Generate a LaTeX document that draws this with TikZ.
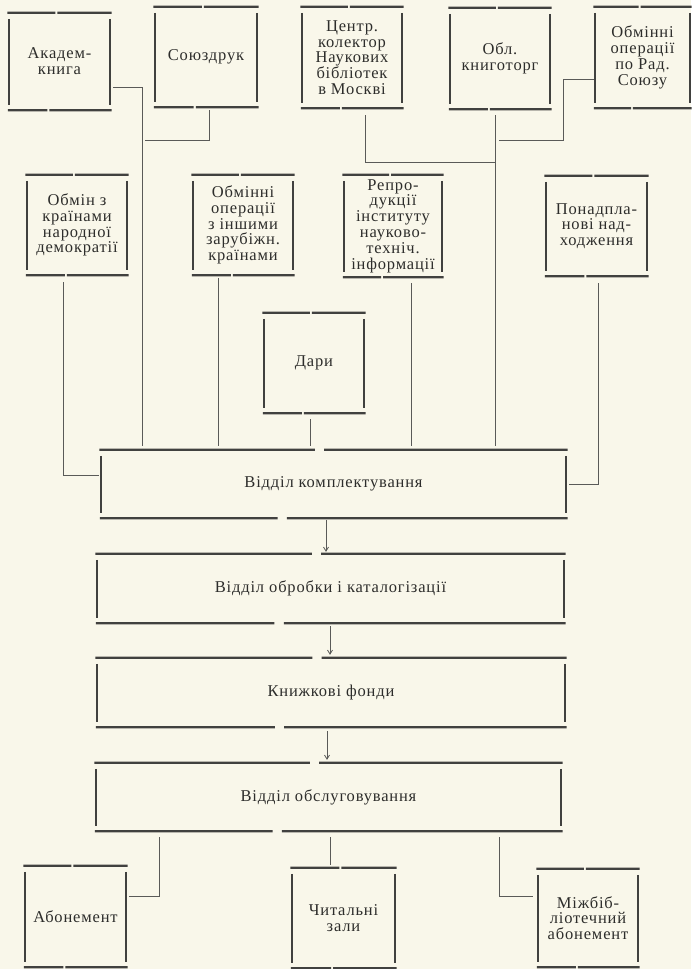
\documentclass[tikz,border=0pt]{standalone}
\usepackage{fontspec}
\setmainfont{Liberation Serif}[LetterSpace=5]
\usetikzlibrary{calc,arrows.meta}
\definecolor{bgc}{RGB}{249,247,234}
\definecolor{lc}{RGB}{65,65,63}
\definecolor{txt}{RGB}{45,45,43}
\definecolor{cc}{RGB}{90,90,88}
\newcommand{\frm}[1]{%
  \draw[hl] ([xshift=-1.5pt]#1.north west) -- ($(#1.north west)!0.46!(#1.north east)$);
  \draw[hl] ($(#1.north west)!0.48!(#1.north east)$) -- ([xshift=1.5pt]#1.north east);
  \draw[hl] ([xshift=-1pt]#1.south west) -- ($(#1.south west)!0.38!(#1.south east)$);
  \draw[hl] ($(#1.south west)!0.40!(#1.south east)$) -- ([xshift=1.5pt]#1.south east);
  \draw[vl] ([yshift=-6pt]#1.north west) -- ([yshift=5pt]#1.south west);
  \draw[vl] ([yshift=-6pt]#1.north east) -- ([yshift=5pt]#1.south east);
}
\begin{document}
\begin{tikzpicture}[x=1pt,y=-1pt,
  bx/.style={rectangle, inner sep=0pt, align=center, text=txt,
    font=\fontsize{16.5}{15.8}\selectfont},
  wide/.style={bx, font=\fontsize{16.5}{18}\selectfont},
  hl/.style={draw=lc, line width=2.3pt},
  vl/.style={draw=lc, line width=2pt},
  cn/.style={draw=cc, line width=0.8pt},
  arr/.style={cn, -{Straight Barb[length=4pt,width=5pt]}}]
\fill[bgc] (0,0) rectangle (691,969);
\useasboundingbox (0,0) rectangle (691,969);

% top row
\node[bx, minimum width=101pt, minimum height=97pt] (akad) at (59.5,61.5) {Академ-\\книга};
\node[bx, minimum width=102pt, minimum height=100pt] (soyuz) at (206,57) {Союздрук};
\node[bx, minimum width=100pt, minimum height=101pt] (centr) at (352,57.5) {Центр.\\колектор\\Наукових\\бібліотек\\в Москві};
\node[bx, minimum width=100pt, minimum height=101pt] (obl) at (500,58.5) {Обл.\\книготорг};
\node[bx, minimum width=95pt, minimum height=101pt] (radsoyuz) at (642.5,57.5) {Обмінні\\операції\\по Рад.\\Союзу};

% second row
\node[bx, minimum width=100pt, minimum height=100pt] (obmin) at (77,225) {Обмін з\\країнами\\народної\\демократії};
\node[bx, minimum width=100pt, minimum height=100pt] (zarub) at (243,225) {Обмінні\\операції\\з іншими\\зарубіжн.\\країнами};
\node[bx, minimum width=98pt, minimum height=102pt] (repro) at (393,226) {Репро-\\дукції\\інституту\\науково-\\техніч.\\інформації};
\node[bx, minimum width=101pt, minimum height=100pt] (ponad) at (596.5,226) {Понадпла-\\нові над-\\ходження};
\node[bx, minimum width=100pt, minimum height=100pt] (dary) at (314,363) {Дари};

% main column
\node[wide, minimum width=465pt, minimum height=68pt] (komp) at (333.5,484) {Відділ комплектування};
\node[wide, minimum width=467pt, minimum height=69pt] (obrob) at (330.5,588.5) {Відділ обробки і каталогізації};
\node[wide, minimum width=468pt, minimum height=69pt] (fondy) at (331,692.5) {Книжкові фонди};
\node[wide, minimum width=465pt, minimum height=68pt] (obsl) at (328.5,797) {Відділ обслуговування};

% bottom row
\node[bx, minimum width=101pt, minimum height=101pt] (abon) at (75.5,916.5) {Абонемент};
\node[bx, minimum width=103pt, minimum height=100pt] (chyt) at (343.5,918) {Читальні\\зали};
\node[bx, minimum width=100pt, minimum height=98pt] (mizh) at (588,918) {Міжбіб-\\ліотечний\\абонемент};

\foreach \n in {akad,soyuz,centr,obl,radsoyuz,obmin,zarub,repro,ponad,dary,komp,obrob,fondy,obsl,abon,chyt,mizh}{\frm{\n}}

% connectors top
\coordinate (j1) at (142,87);
\coordinate (j2) at (209,140);
\coordinate (j3) at (365,162);
\coordinate (j4) at (495,140);
\coordinate (j5) at (563,79);
\coordinate (j6) at (63,475);
\coordinate (j8) at (598,484);
\coordinate (x7) at (218,0);
\coordinate (xd) at (310,0);
\coordinate (xr) at (411,0);
\draw[cn] ([xshift=3pt]akad.east |- j1) -- (j1) -- ([yshift=4pt]j1 |- komp.north);
\draw[cn] ([yshift=-3pt]soyuz.south -| j2) -- (j2) -- ([xshift=3pt]j2 -| j1);
\draw[cn] ([yshift=-7pt]centr.south -| j3) -- (j3) -- (j3 -| j4);
\draw[cn] ([yshift=-6pt]obl.south -| j4) -- ([yshift=4pt]komp.north -| j4);
\draw[cn] ([xshift=-1pt]radsoyuz.west |- j5) -- (j5) -- (j5 |- j4) -- ([xshift=4pt]j4);
\draw[cn] ([yshift=-7pt]obmin.south -| j6) -- (j6) -- ([xshift=-2pt]komp.west |- j6);
\draw[cn] ([yshift=-3pt]zarub.south -| x7) -- ([yshift=4pt]komp.north -| x7);
\draw[cn] ([yshift=-6pt]dary.south -| xd) -- ([yshift=4pt]komp.north -| xd);
\draw[cn] ([yshift=-6pt]repro.south -| xr) -- ([yshift=4pt]komp.north -| xr);
\draw[cn] ([yshift=-7pt]ponad.south -| j8) -- (j8) -- ([xshift=3pt]komp.east |- j8);

% arrows
\coordinate (a1) at (326,0);
\coordinate (a2) at (330,0);
\coordinate (a3) at (327,0);
\draw[arr] ([yshift=-2pt]komp.south -| a1) -- ([yshift=2pt]obrob.north -| a1);
\draw[arr] ([yshift=-3pt]obrob.south -| a2) -- ([yshift=3pt]fondy.north -| a2);
\draw[arr] ([yshift=-4pt]fondy.south -| a3) -- ([yshift=3pt]obsl.north -| a3);

% bottom connectors
\coordinate (b1) at (159,896);
\coordinate (b2) at (330,0);
\coordinate (b3) at (499,896);
\draw[cn] ([yshift=-6pt]obsl.south -| b1) -- (b1) -- ([xshift=3pt]abon.east |- b1);
\draw[cn] ([yshift=-6pt]obsl.south -| b2) -- ([yshift=3pt]chyt.north -| b2);
\draw[cn] ([yshift=-6pt]obsl.south -| b3) -- (b3) -- ([xshift=-5pt]mizh.west |- b3);
\end{tikzpicture}
\end{document}
